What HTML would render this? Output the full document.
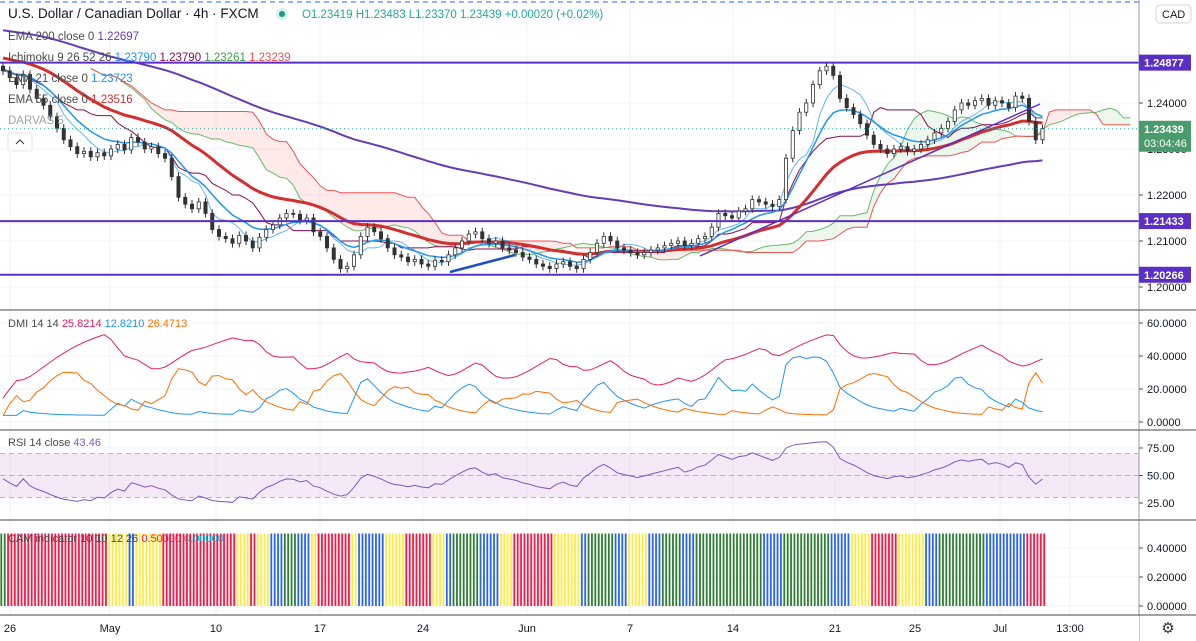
<!DOCTYPE html>
<html><head><meta charset="utf-8">
<style>
body{margin:0;background:#fff;font-family:"Liberation Sans",sans-serif;}
svg{display:block}
text{font-family:"Liberation Sans",sans-serif;}
</style></head>
<body>
<svg id="c" width="1196" height="641" viewBox="0 0 1196 641">
<rect x="0" y="0" width="1196" height="641" fill="#fff"/>
<g id="grid"></g>
<g id="main"></g>
<g id="ov"></g>
</svg>
<script>
const closes=[1.2470,1.2455,1.2440,1.2462,1.2430,1.2410,1.2395,1.2370,1.2345,
1.2320,1.2305,1.2290,1.2295,1.2283,1.2292,1.2285,1.2300,
1.2310,1.2298,1.2325,1.2315,1.2300,1.2305,1.2290,1.2280,
1.2240,1.2195,1.2180,1.2170,1.2185,1.2160,
1.2125,1.2110,1.2105,1.2095,1.2112,1.2100,1.2085,1.2108,
1.2125,1.2135,1.2150,1.2160,1.2158,1.2145,1.2150,1.2120,
1.2110,1.2085,1.2060,1.2040,1.2045,1.2070,1.2110,
1.2130,1.2120,1.2105,1.2085,1.2070,1.2065,1.2055,
1.2060,1.2050,1.2045,1.2058,1.2055,1.2070,1.2085,
1.2100,1.2115,1.2120,1.2105,1.2095,1.2100,1.2085,
1.2080,1.2075,1.2065,1.2060,1.2050,1.2045,1.2040,
1.2050,1.2055,1.2045,1.2040,1.2060,1.2075,1.2095,
1.2110,1.2100,1.2085,1.2080,1.2075,1.2070,1.2075,
1.2080,1.2085,1.2090,1.2095,1.2100,1.2090,1.2095,
1.2105,1.2110,1.2130,1.2160,1.2155,1.2150,1.2165,
1.2170,1.2190,1.2185,1.2180,1.2175,1.2190,1.2280,
1.2340,1.2380,1.2400,1.2440,1.2470,1.2480,1.2460,
1.2410,1.2390,1.2375,1.2355,1.2330,1.2310,1.2300,
1.2290,1.2300,1.2305,1.2295,1.2300,1.2310,1.2320,
1.2335,1.2345,1.2360,1.2385,1.2400,1.2395,1.2405,
1.2410,1.2395,1.2405,1.2400,1.2390,1.2415,1.2410,
1.2360,1.2320,1.2344];
const firstOpen=1.2480;
const emaSeeds=[1.2560,1.2500,1.2470];
const levels=[1.24877,1.21433,1.20266];
const priceTicks=[1.24,1.23,1.22,1.21,1.20];
const dmiTicks=[60,40,20,0];
const rsiTicks=[75,50,25];
const camTicks=[0.4,0.2,0];
const timeLabels=["26","May","10","17","24","Jun","7","14","21","25","Jul","13:00"];
const timePos=[10,110,216,320,423,527,630,733,835,915,1000,1070];

const NS="http://www.w3.org/2000/svg";
const G=document.getElementById('grid'),M=document.getElementById('main'),O=document.getElementById('ov');
function el(p,t,a){const e=document.createElementNS(NS,t);for(const k in a)e.setAttribute(k,a[k]);p.appendChild(e);return e;}
const xOf=i=>3+i*6.75;
const yP=p=>287-(p-1.2)*4600;
const yD=v=>422-1.65*v;
const yR=v=>503-1.1*(v-25);
const yC=v=>606-v*145;
const PR=1139;
timePos.forEach(x=>{el(G,'line',{x1:x,x2:x,y1:0,y2:615,stroke:'#f0f3fa'});});
priceTicks.forEach(p=>el(G,'line',{x1:0,x2:PR,y1:yP(p),y2:yP(p),stroke:'#f0f3fa'}));
el(G,'line',{x1:0,x2:PR,y1:yP(1.25),y2:yP(1.25),stroke:'#f0f3fa'});
dmiTicks.forEach(v=>el(G,'line',{x1:0,x2:PR,y1:yD(v),y2:yD(v),stroke:'#f0f3fa'}));
rsiTicks.forEach(v=>el(G,'line',{x1:0,x2:PR,y1:yR(v),y2:yR(v),stroke:'#f0f3fa'}));
camTicks.forEach(v=>el(G,'line',{x1:0,x2:PR,y1:yC(v),y2:yC(v),stroke:'#f0f3fa'}));
const N=closes.length,opens=[],highs=[],lows=[];
for(let i=0;i<N;i++){const o=i?closes[i-1]:firstOpen;opens.push(o);highs.push(Math.max(o,closes[i])+0.0009);lows.push(Math.min(o,closes[i])-0.0009);}
function ema(src,n,seed){const k=2/(n+1);let v=seed;return src.map(c=>v=v+k*(c-v));}
const e200=ema(closes,100,emaSeeds[0]),e55=ema(closes,27,emaSeeds[1]),e21=ema(closes,10,emaSeeds[2]);
function mid(i,n){let h=-1,l=9;for(let j=Math.max(0,i-n+1);j<=i;j++){h=Math.max(h,highs[j]);l=Math.min(l,lows[j]);}return (h+l)/2;}
const ten=[],kij=[],sa=[],sb=[];
for(let i=0;i<N;i++){ten.push(mid(i,5));kij.push(mid(i,13));sb.push(mid(i,26));}
for(let i=0;i<N;i++)sa.push((ten[i]+kij[i])/2);
function path(arr,fx,fy,off){off=off||0;return arr.map((v,i)=>(i?'L':'M')+fx(i+off).toFixed(1)+','+fy(v).toFixed(1)).join('');}
const SH=13;
for(let i=0;i<N-1;i++){const up=sa[i]>=sb[i];
const p=el(M,'polygon',{points:`${xOf(i+SH)},${yP(sa[i])} ${xOf(i+1+SH)},${yP(sa[i+1])} ${xOf(i+1+SH)},${yP(sb[i+1])} ${xOf(i+SH)},${yP(sb[i])}`,fill:up?'rgba(76,175,80,0.1)':'rgba(255,82,82,0.12)'});

}
el(M,'path',{d:path(sa,xOf,yP,SH),stroke:'#66bb6a',fill:'none','stroke-width':1,});
el(M,'path',{d:path(sb,xOf,yP,SH),stroke:'#ef5350',fill:'none','stroke-width':1,});
el(M,'path',{d:path(kij,xOf,yP),stroke:'#880e4f',fill:'none','stroke-width':1,});
el(M,'path',{d:path(e200,xOf,yP),stroke:'#673ab7',fill:'none','stroke-width':2,});
el(M,'path',{d:path(e55,xOf,yP),stroke:'#d32f2f',fill:'none','stroke-width':3,});
el(M,'path',{d:path(e21,xOf,yP),stroke:'#2196f3',fill:'none','stroke-width':1.5,});
el(M,'path',{d:path(ten,xOf,yP),stroke:'#2196f3',fill:'none','stroke-width':1,opacity:.7,});
for(let i=0;i<N;i++){const x=xOf(i),up=closes[i]>=opens[i];
const g=el(M,'g',{});


el(g,'line',{x1:x,x2:x,y1:yP(highs[i]),y2:yP(lows[i]),stroke:'#333'});
const t=yP(Math.max(opens[i],closes[i])),b=yP(Math.min(opens[i],closes[i]));
el(g,'rect',{x:x-1.6,y:t,width:3.2,height:Math.max(1,b-t),fill:up?'#fff':'#333',stroke:'#333','stroke-width':0.8});}
levels.forEach(p=>{const l=el(M,'line',{x1:0,x2:PR,y1:yP(p),y2:yP(p),stroke:'#5b2fc6','stroke-width':2});});
el(M,'line',{x1:450,y1:272,x2:515,y2:255,stroke:'#1e4fc2','stroke-width':2.5,});
el(M,'line',{x1:700,y1:256,x2:1040,y2:104,stroke:'#5b2fc6','stroke-width':1.5,});
el(M,'line',{x1:0,x2:PR,y1:yP(closes[N-1]),y2:yP(closes[N-1]),stroke:'#26a69a','stroke-dasharray':'1 3',});
el(M,'line',{x1:0,x2:1196,y1:2,y2:2,stroke:'#2962ff','stroke-dasharray':'5 4',});
// DMI
const pdi=[],mdi=[],adx=[];{let tr=0,pd=0,md=0,ad=25,k=1/4,ka=1/9;
for(let i=0;i<N;i++){const ph=i?highs[i-1]:highs[i],pl=i?lows[i-1]:lows[i],pc=i?closes[i-1]:opens[i];
const up=highs[i]-ph,dn=pl-lows[i];const t=Math.max(highs[i]-lows[i],Math.abs(highs[i]-pc),Math.abs(lows[i]-pc));
tr=i?tr+k*(t-tr):t;pd=pd+k*((up>dn&&up>0?up:0)-pd);md=md+k*((dn>up&&dn>0?dn:0)-md);
const P=55*pd/tr,Mn=55*md/tr;pdi.push(P+4);mdi.push(Mn+4);const dx=100*Math.abs(P-Mn)/((P+Mn)||1);ad=ad+ka*(dx-ad);adx.push(ad*0.65);}}
el(M,'path',{d:path(pdi,xOf,yD),stroke:'#2196f3',fill:'none',});
el(M,'path',{d:path(mdi,xOf,yD),stroke:'#ff6d00',fill:'none',});
el(M,'path',{d:path(adx,xOf,yD),stroke:'#e91e63',fill:'none',});
// RSI
el(M,'rect',{x:0,y:yR(70),width:PR,height:yR(30)-yR(70),fill:'rgba(156,39,176,0.1)',});
[70,50,30].forEach(v=>el(M,'line',{x1:0,x2:PR,y1:yR(v),y2:yR(v),stroke:'#c9a3d6','stroke-dasharray':'5 4'}));
const rsi=[];{let ag=0.0005,al=0.0005,k=1/12;for(let i=0;i<N;i++){const d=closes[i]-opens[i];ag=ag+k*(Math.max(d,0)-ag);al=al+k*(Math.max(-d,0)-al);rsi.push(50+0.7*(50-100/(1+ag/(al||1e-9))));}}
el(M,'path',{d:path(rsi,xOf,yR),stroke:'#7e57c2',fill:'none',});
// CAM
for(let i=0;i<N;i++){const mu=e21[i]>=(i?e21[i-1]:e21[i]),au=adx[i]>=(i?adx[i-1]:adx[i]);
const col=mu&&au?'#2e7d32':(!mu&&au?'#ff1744':(mu?'#2962ff':'#ffeb3b'));
for(let s=0;s<2;s++){const x=xOf(i)-1.7+s*3.4;const l=el(M,'line',{x1:x,x2:x,y1:yC(0),y2:yC(0.5),stroke:col,'stroke-width':1.8});

}}
[310,430,520,615].forEach(y=>el(O,'line',{x1:0,x2:1196,y1:y,y2:y,stroke:'#434651','stroke-width':1}));
el(O,'rect',{x:PR,y:0,width:57,height:641,fill:'#fff'});
el(O,'line',{x1:PR,x2:PR,y1:0,y2:641,stroke:'#9598a1'});
[310,430,520,615].forEach(y=>el(O,'line',{x1:PR,x2:1196,y1:y,y2:y,stroke:'#434651'}));
function tick(y,t){el(O,'line',{x1:PR,x2:PR+4,y1:y,y2:y,stroke:'#555'});const e=el(O,'text',{x:PR+8,y:y+4,'font-size':11,fill:'#131722'});e.textContent=t;}
priceTicks.forEach(p=>tick(yP(p),p.toFixed(5)));
dmiTicks.forEach(v=>tick(yD(v),v.toFixed(4)));
rsiTicks.forEach(v=>tick(yR(v),v.toFixed(2)));
camTicks.forEach(v=>tick(yC(v),v.toFixed(5)));
function plab(p,t,fill,h){const y=yP(p);el(O,'rect',{x:PR,y:y-8,width:52,height:h||16,fill:fill});const e=el(O,'text',{x:PR+5,y:y+4,'font-size':11,'font-weight':'bold',fill:'#fff'});e.textContent=t;return e;}
levels.forEach(p=>{const e=plab(p,p.toFixed(5),'#5b2fc6');});
const cl=plab(closes[N-1],'1.23439','#4a9b6c',31);
{const e=el(O,'text',{x:PR+5,y:yP(closes[N-1])+18,'font-size':11,fill:'#fff'});e.textContent='03:04:46';}
{el(O,'rect',{x:1156,y:5,width:35,height:18,rx:4,fill:'#fff',stroke:'#d1d4dc'});const e=el(O,'text',{x:1162,y:18,'font-size':11,fill:'#131722',});e.textContent='CAD';}
el(O,'rect',{x:0,y:616,width:PR,height:25,fill:'#fff'});
timeLabels.forEach((t,i)=>{const e=el(O,'text',{x:timePos[i],y:632,'font-size':11,fill:'#131722','text-anchor':'middle'});e.textContent=t;});
{const e=el(O,'text',{x:1168,y:633,'font-size':15,fill:'#333','text-anchor':'middle',});e.textContent='⚙';}
function txt(x,y,parts,size){const t=el(O,'text',{x:x,y:y,'font-size':size||12});parts.forEach(([s,c])=>{const sp=el(t,'tspan',{fill:c});sp.textContent=s+' ';});return t;}
let t;
t=txt(8,18,[['U.S. Dollar / Canadian Dollar · 4h · FXCM','#131722']],13.5);
el(O,'circle',{cx:282,cy:14,r:6,fill:'#d7efe9'});el(O,'circle',{cx:282,cy:14,r:3,fill:'#1c9a86',});
t=txt(302,18,[['O1.23419 H1.23483 L1.23370 1.23439 +0.00020 (+0.02%)','#26a69a']],11.5);
t=txt(8,40,[['EMA 200 close 0','#4a4a4a'],['1.22697','#673ab7']],11.5);
t=txt(8,61,[['Ichimoku 9 26 52 26','#4a4a4a'],['1.23790','#2196f3'],['1.23790','#880e4f'],['1.23261','#43a047'],['1.23239','#ef5350']],11.5);
t=txt(8,82,[['EMA 21 close 0','#4a4a4a'],['1.23723','#2196f3']],11.5);
t=txt(8,103,[['EMA 55 close 0','#4a4a4a'],['1.23516','#d32f2f']],11.5);
t=txt(8,124,[['DARVAS 5','#a0a3ab']],11.5);
el(O,'rect',{x:8,y:133,width:24,height:18,rx:2,fill:'#fff',stroke:'#e0e3eb',});
el(O,'path',{d:'M16,144 L20,140 L24,144',stroke:'#333',fill:'none'});
t=txt(8,327,[['DMI 14 14','#4a4a4a'],['25.8214','#e91e63'],['12.8210','#2196f3'],['26.4713','#ff6d00']],11);
t=txt(8,446,[['RSI 14 close','#4a4a4a'],['43.46','#7e57c2']],11);
t=txt(8,542,[['CAM indicator 10 10 12 26','#4a4a4a'],['0.50000','#ff1744'],['0.00000','#00bcd4']],11);
</script>
</body></html>
